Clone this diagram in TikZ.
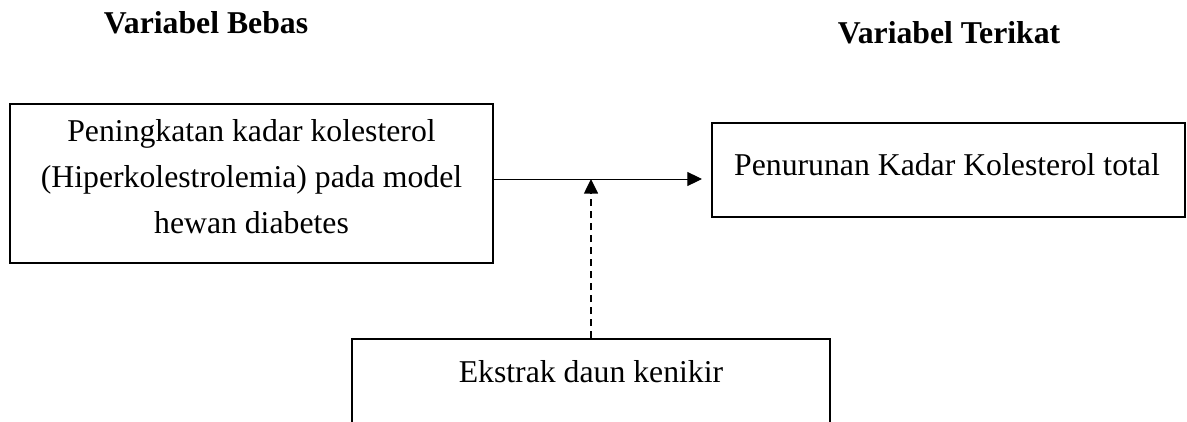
\documentclass[tikz,border=0pt]{standalone}
\usepackage{fontspec}
\setmainfont{Liberation Serif}
\usetikzlibrary{arrows.meta}
\tikzset{
  box/.style={draw, line width=1.5pt, inner sep=0pt, minimum width=#1},
  txt/.style={inner sep=0pt, align=center, anchor=base,
              font=\fontsize{23.8pt}{34.5pt}\selectfont},
  title/.style={inner sep=0pt, anchor=base,
              font=\fontsize{23.8pt}{28pt}\selectfont\bfseries},
  tip/.style={-{Triangle[length=11pt,width=10.5pt]}},
}
\begin{document}
\begin{tikzpicture}[x=0.75pt,y=-0.75pt]
  \useasboundingbox (0,0) rectangle (1187,421);
  \clip (0,0) rectangle (1187,421);

  % column headings
  \node[title] (hb) at (206,33) {Variabel Bebas};
  \node[title] (ht) at (949,43) {Variabel Terikat};

  % boxes
  \node[box=362.25pt, minimum height=119.25pt] (cause) at (251.5,183.5) {};
  \node[box=354.75pt, minimum height=70.5pt] (effect) at (948.5,170) {};
  \node[box=358.5pt, minimum height=90pt] (extract) at (591,399) {};

  % box texts (base anchor sits on the last line)
  \node[txt] (causet) at (251.5,233) {Peningkatan kadar kolesterol\\(Hiperkolestrolemia) pada model\\hewan diabetes};
  \node[txt] (effectt) at (947,175) {Penurunan Kadar Kolesterol total};
  \node[txt] (extractt) at (591,382) {Ekstrak daun kenikir};

  % connectors
  \coordinate (arrowend) at (702,179);
  \coordinate (meet) at (591,179);
  \draw[line width=0.75pt, tip] (cause.east |- arrowend) -- (arrowend);
  \draw[line width=1.1pt, dash pattern=on 5.5pt off 3.5pt, tip] (extract.north -| meet) -- (meet);
\end{tikzpicture}
\end{document}
